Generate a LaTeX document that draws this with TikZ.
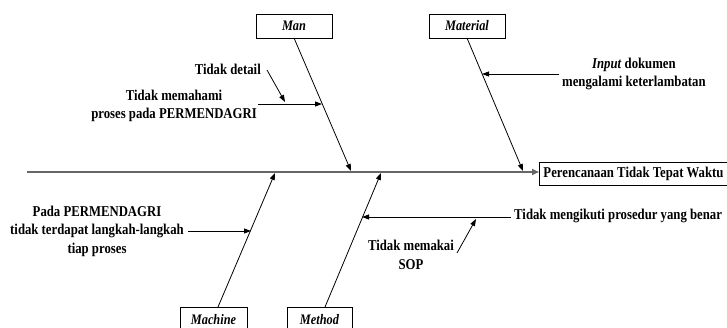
\documentclass[tikz,border=0pt]{standalone}
\usepackage{fontspec}
\setmainfont{Liberation Serif}[FakeStretch=0.85]
\usetikzlibrary{arrows.meta}
\begin{document}
\begin{tikzpicture}[x=1pt,y=-1pt,
  lbl/.style={font=\bfseries\fontsize{15}{18.5}\selectfont, align=center, inner sep=0pt},
  catbox/.style={draw, line width=0.9pt, font=\bfseries\itshape\fontsize{14.5}{16}\selectfont, inner sep=0pt},
  bone/.style={line width=0.8pt, -{Triangle[length=7pt,width=5pt]}},
  spine/.style={line width=1.6pt, draw=black!60, -{Triangle[length=7pt,width=6pt]}}]
\useasboundingbox (0,0) rectangle (727,328);
% effect
\node[draw, line width=0.9pt, anchor=west, minimum height=23pt, minimum width=186pt, inner xsep=4pt,
  font=\bfseries\fontsize{15}{16}\selectfont] (effect) at (539,173.5) {Perencanaan Tidak Tepat Waktu\hfill};
\coordinate (tail) at (27,172);
\draw[spine] (tail) -- (tail -| effect.west);
% category boxes
\node[catbox, minimum width=76pt, minimum height=24pt] (man) at (294,26) {Man};
\node[catbox, minimum width=76pt, minimum height=24pt] (material) at (467,26) {Material};
\node[catbox, minimum width=67pt, minimum height=26pt] (machine) at (213.5,320) {Machine};
\node[catbox, minimum width=65pt, minimum height=26pt] (method) at (319.5,320) {Method};
% bones
\coordinate (manS) at (294,38);
\coordinate (manT) at (351,171);
\coordinate (matS) at (467,38);
\coordinate (matT) at (523,171);
\coordinate (macS) at (218,307);
\coordinate (macT) at (275,173);
\coordinate (metS) at (325,307);
\coordinate (metT) at (381,173);
\draw[bone] (manS) -- (manT);
\draw[bone] (matS) -- (matT);
\draw[bone] (macS) -- (macT);
\draw[bone] (metS) -- (metT);
% Man causes
\node[lbl, anchor=east] (c1) at (257,106) {Tidak memahami\\proses pada PERMENDAGRI};
\coordinate (c1T) at (322,104);
\draw[bone] ([xshift=1pt]c1.east |- c1T) -- (c1T);
\node[lbl, anchor=east] (c2) at (261,69) {Tidak detail};
\coordinate (c2T) at (285,102);
\draw[bone] (267,70) -- (c2T);
% Material cause
\node[lbl, anchor=west] (c3) at (562,74) {\textit{Input} dokumen\\mengalami keterlambatan};
\coordinate (c3T) at (482,74);
\draw[bone] ([xshift=-3pt]c3.west) -- (c3T);
% Machine cause
\node[lbl, anchor=east] (c4) at (184,231) {Pada PERMENDAGRI\\tidak terdapat langkah-langkah\\tiap proses};
\coordinate (c4T) at (251,231);
\draw[bone] ([xshift=4pt]c4.east) -- (c4T);
% Method causes
\node[lbl, anchor=west] (c5) at (514,216) {Tidak mengikuti prosedur yang benar};
\coordinate (c5T) at (362,217);
\draw[bone] ([xshift=-3pt]c5.west |- c5T) -- (c5T);
\node[lbl] (c6) at (411,255) {Tidak memakai\\SOP};
\coordinate (c6T) at (476,219);
\draw[bone] (457,253) -- (c6T);
\end{tikzpicture}
\end{document}
